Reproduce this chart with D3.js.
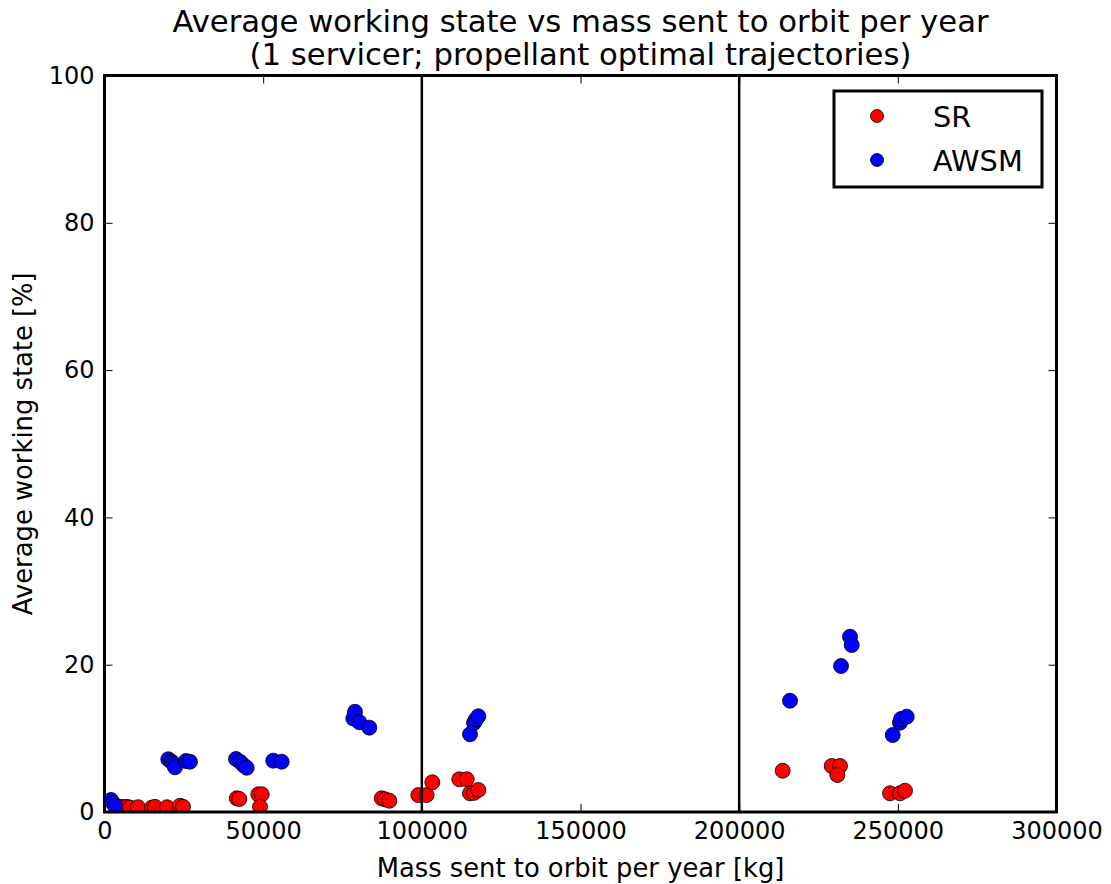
<!DOCTYPE html>
<html>
<head>
<meta charset="utf-8">
<script src="https://cdn.jsdelivr.net/npm/d3@7"></script>
<style>
  html, body { margin: 0; padding: 0; background: #fff; }
  svg { display: block; font-family: 'DejaVu Sans', sans-serif; }
</style>
</head>
<body>
<div id="chart"></div>
<script>

// data
var titleLines = [
  'Average working state vs mass sent to orbit per year',
  '(1 servicer; propellant optimal trajectories)'
];

var srMass = [5200, 6150, 7090, 8040, 10560, 14970, 15910, 19700, 23790, 24740,
  41660, 42480, 48470, 49540, 49000,
  87350, 88400, 89750, 98900, 101500, 103300,
  111800, 114150, 115180, 116400, 117800,
  213710, 229160, 231780, 230940, 247530, 250680, 252260];
var srState = [0.7, 0.65, 0.7, 0.6, 0.65, 0.6, 0.7, 0.65, 0.85, 0.7,
  1.86, 1.77, 2.4, 2.4, 0.72,
  1.86, 1.72, 1.53, 2.3, 2.3, 4.03,
  4.44, 4.44, 2.54, 2.6, 2.99,
  5.61, 6.25, 6.25, 5.02, 2.54, 2.54, 2.89];

var awsmMass = [2050, 2680, 3310,
  20100, 21180, 21740, 22220, 25680, 26920,
  41440, 42700, 43740, 44810, 53190, 55840,
  78400, 78940, 80300, 83450,
  115180, 116440, 117070, 117800,
  216030, 232100, 234930, 235470, 248390, 250680, 251000, 252800];
var awsmState = [1.63, 1.22, 0.81,
  7.16, 6.83, 6.56, 6.07, 6.92, 6.83,
  7.2, 6.83, 6.38, 6.01, 6.97, 6.83,
  12.7, 13.6, 12.2, 11.45,
  10.55, 12.1, 12.6, 13.0,
  15.11, 19.82, 23.8, 22.67, 10.45, 12.13, 12.63, 12.94];

var xTicks = [0, 50000, 100000, 150000, 200000, 250000, 300000];
var yTicks = [0, 20, 40, 60, 80, 100];
var dividers = [100000, 200000];

var series = [
  { 'label': 'SR', 'color': '#ff0000', 'x': srMass, 'y': srState },
  { 'label': 'AWSM', 'color': '#0000ff', 'x': awsmMass, 'y': awsmState }
];

var settings = {
  'width': 1111,
  'height': 884,
  'box': { 'left': 104.5, 'top': 75.5, 'right': 1056.5, 'bottom': 812 },
  'radius': 7.5,
  'tick': 8
};

function translate(x, y) {
  return 'translate(' + x + ',' + y + ')';
}

var b = settings.box;

var svg = d3.select('#chart').append('svg')
  .attr('width', settings.width)
  .attr('height', settings.height);

svg.append('rect')
  .attr('width', settings.width)
  .attr('height', settings.height)
  .attr('fill', '#fff');

var x = d3.scaleLinear().domain([0, 300000]).range([b.left, b.right]);
var y = d3.scaleLinear().domain([0, 100]).range([b.bottom, b.top]);

svg.append('clipPath').attr('id', 'plot-clip')
  .append('rect')
  .attr('x', b.left).attr('y', b.top)
  .attr('width', b.right - b.left).attr('height', b.bottom - b.top);

// points, red first then blue
var plot = svg.append('g').attr('clip-path', 'url(#plot-clip)');

series.forEach(function(s) {
  plot.append('g').selectAll('circle')
    .data(d3.range(s.x.length))
    .enter().append('circle')
    .attr('cx', function(i) { return x(s.x[i]); })
    .attr('cy', function(i) { return y(s.y[i]); })
    .attr('r', settings.radius)
    .attr('fill', s.color)
    .attr('stroke', '#000')
    .attr('stroke-width', 0.8);
});

// vertical divider lines
plot.selectAll('.divider')
  .data(dividers)
  .enter().append('line')
  .attr('class', 'divider')
  .attr('x1', function(d) { return x(d); })
  .attr('x2', function(d) { return x(d); })
  .attr('y1', b.top)
  .attr('y2', b.bottom)
  .attr('stroke', '#000')
  .attr('stroke-width', 2.5);

// axes, ticks pointing inwards on all four sides (matplotlib classic look)
var axisBottom = d3.axisBottom(x).tickValues(xTicks).tickSize(-settings.tick).tickPadding(18)
  .tickFormat(d3.format('d'));
var axisTop = d3.axisTop(x).tickValues(xTicks).tickSize(-settings.tick).tickFormat('');
var axisLeft = d3.axisLeft(y).tickValues(yTicks).tickSize(-settings.tick).tickPadding(18);
var axisRight = d3.axisRight(y).tickValues(yTicks).tickSize(-settings.tick).tickFormat('');

var gx = svg.append('g').attr('transform', translate(0, b.bottom)).call(axisBottom);
var gxt = svg.append('g').attr('transform', translate(0, b.top)).call(axisTop);
var gy = svg.append('g').attr('transform', translate(b.left, 0)).call(axisLeft);
var gyr = svg.append('g').attr('transform', translate(b.right, 0)).call(axisRight);

[gx, gxt, gy, gyr].forEach(function(g) {
  g.select('.domain').remove();
  g.selectAll('.tick line').attr('stroke', '#000').attr('stroke-width', 1);
  g.selectAll('.tick text')
    .attr('fill', '#000')
    .style('font-family', "'DejaVu Sans', sans-serif")
    .style('font-size', '24px');
});

gx.selectAll('.tick text').attr('dy', '0.71em').attr('y', 10);
gy.selectAll('.tick text').attr('x', -10);

// frame
svg.append('rect')
  .attr('x', b.left).attr('y', b.top)
  .attr('width', b.right - b.left).attr('height', b.bottom - b.top)
  .attr('fill', 'none')
  .attr('stroke', '#000')
  .attr('stroke-width', 3);

// axis labels
svg.append('text')
  .attr('x', (b.left + b.right) / 2)
  .attr('y', 877)
  .attr('text-anchor', 'middle')
  .style('font-size', '25.8px')
  .text('Mass sent to orbit per year [kg]');

svg.append('text')
  .attr('transform', translate(32, (b.top + b.bottom) / 2) + ' rotate(-90)')
  .attr('text-anchor', 'middle')
  .style('font-size', '25.8px')
  .text('Average working state [%]');

// title
svg.append('g').selectAll('text')
  .data(titleLines)
  .enter().append('text')
  .attr('x', (b.left + b.right) / 2)
  .attr('y', function(d, i) { return 32 + i * 33; })
  .attr('text-anchor', 'middle')
  .style('font-size', '30.7px')
  .text(function(d) { return d; });

// legend
var legend = svg.append('g');

legend.append('rect')
  .attr('x', 834).attr('y', 91)
  .attr('width', 208).attr('height', 96)
  .attr('fill', '#fff')
  .attr('stroke', '#000')
  .attr('stroke-width', 3);

var rows = legend.selectAll('.legend-row')
  .data(series)
  .enter().append('g')
  .attr('class', 'legend-row')
  .attr('transform', function(d, i) { return translate(877, 116 + i * 44); });

rows.append('circle')
  .attr('r', 6.5)
  .attr('fill', function(d) { return d.color; })
  .attr('stroke', '#000')
  .attr('stroke-width', 0.8);

rows.append('text')
  .attr('x', 56)
  .attr('y', 10.5)
  .style('font-size', '28.8px')
  .text(function(d) { return d.label; });

</script>
</body>
</html>
